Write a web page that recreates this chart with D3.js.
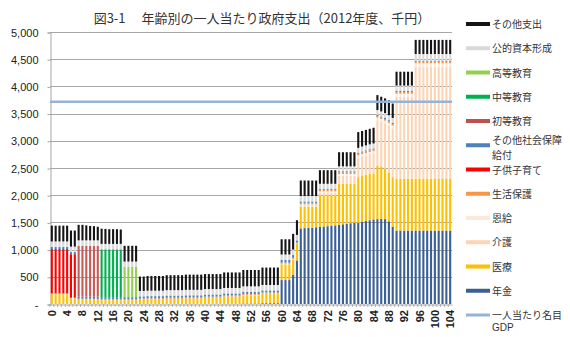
<!DOCTYPE html>
<html>
<head>
<meta charset="utf-8">
<script src="https://cdn.jsdelivr.net/npm/d3@7"></script>
<style>
  body { margin: 0; background: #fff; }
  svg { display: block; font-family: "Liberation Sans", Arial, sans-serif; }
</style>
</head>
<body>
<svg id="chart" width="570" height="337"></svg>
<script>
// ages 0 - 104
var ages = [
  0,1,2,3,4,5,6,7,8,9,
  10,11,12,13,14,15,16,17,18,19,
  20,21,22,23,24,25,26,27,28,29,
  30,31,32,33,34,35,36,37,38,39,
  40,41,42,43,44,45,46,47,48,49,
  50,51,52,53,54,55,56,57,58,59,
  60,61,62,63,64,65,66,67,68,69,
  70,71,72,73,74,75,76,77,78,79,
  80,81,82,83,84,85,86,87,88,89,
  90,91,92,93,94,95,96,97,98,99,
  100,101,102,103,104
];

// series, thousand yen per person
var nenkin = [
  0,0,0,0,0,0,0,0,0,0,
  0,0,0,0,0,0,0,0,0,0,
  0,0,0,0,0,0,0,0,0,0,
  0,0,0,0,0,0,0,0,0,0,
  5,5,5,5,5,5,5,5,5,5,
  10,10,10,10,10,15,15,15,15,15,
  440,440,440,540,800,1390,1395,1400,1405,1410,
  1420,1425,1430,1440,1445,1455,1465,1475,1485,1490,
  1490,1510,1525,1540,1555,1560,1565,1560,1520,1420,
  1350,1350,1350,1350,1350,1350,1350,1350,1350,1350,
  1350,1350,1350,1350,1350
];
var iryo = [
  180,180,180,180,180,100,100,80,80,80,
  80,80,80,70,70,70,70,70,70,70,
  70,70,70,80,80,85,85,85,85,85,
  95,95,95,95,95,100,100,100,100,100,
  110,110,110,110,110,130,130,130,130,130,
  150,150,150,150,150,170,170,170,170,170,
  290,290,290,280,300,400,395,390,385,380,
  570,565,560,550,545,755,745,735,725,720,
  840,845,850,850,845,985,965,925,900,910,
  955,955,955,955,955,955,955,955,955,955,
  955,955,955,955,955
];
var kaigo = [
  0,0,0,0,0,0,0,0,0,0,
  0,0,0,0,0,0,0,0,0,0,
  0,0,0,0,0,0,0,0,0,0,
  0,0,0,0,0,0,0,0,0,0,
  0,0,0,0,0,0,0,0,0,0,
  5,5,5,5,5,5,5,5,5,5,
  10,10,10,10,10,30,30,30,30,30,
  60,60,60,60,60,150,150,150,150,150,
  360,360,360,365,370,830,820,835,860,900,
  1500,1500,1500,1500,1500,2050,2050,2050,2050,2050,
  2050,2050,2050,2050,2050
];
var onkyu = [
  0,0,0,0,0,0,0,0,0,0,
  0,0,0,0,0,0,0,0,0,0,
  0,0,0,0,0,0,0,0,0,0,
  0,0,0,0,0,0,0,0,0,0,
  0,0,0,0,0,0,0,0,0,0,
  0,0,0,0,0,0,0,0,0,0,
  0,0,0,0,0,10,10,10,10,10,
  20,20,20,20,20,30,30,30,30,30,
  40,40,40,40,40,50,50,50,50,50,
  60,60,60,60,60,70,70,70,70,70,
  70,70,70,70,70
];
var seikatsu = [
  15,15,15,15,15,15,15,15,15,15,
  15,15,15,15,15,15,15,15,15,15,
  15,15,15,20,20,20,20,20,20,20,
  20,20,20,20,20,20,20,20,20,20,
  20,20,20,20,20,20,20,20,20,20,
  20,20,20,20,20,20,20,20,20,20,
  20,20,20,20,20,30,30,30,30,30,
  30,30,30,30,30,30,30,30,30,30,
  30,30,30,30,30,30,30,30,30,30,
  30,30,30,30,30,30,30,30,30,30,
  30,30,30,30,30
];
var kodomo = [
  815,815,815,815,815,800,800,0,0,0,
  0,0,0,0,0,0,0,0,0,0,
  0,0,0,0,0,0,0,0,0,0,
  0,0,0,0,0,0,0,0,0,0,
  0,0,0,0,0,0,0,0,0,0,
  0,0,0,0,0,0,0,0,0,0,
  0,0,0,0,0,0,0,0,0,0,
  0,0,0,0,0,0,0,0,0,0,
  0,0,0,0,0,0,0,0,0,0,
  0,0,0,0,0,0,0,0,0,0,
  0,0,0,0,0
];
var shakai = [
  40,40,40,40,40,40,40,40,40,40,
  40,40,40,40,40,40,40,40,40,40,
  40,40,40,40,40,40,40,40,40,40,
  40,40,40,40,40,40,40,40,40,40,
  40,40,40,40,40,40,40,40,40,40,
  40,40,40,40,40,40,40,40,40,40,
  50,50,50,50,40,25,25,25,25,25,
  20,20,20,20,20,20,20,20,20,20,
  20,20,20,20,20,20,20,20,20,20,
  20,20,20,20,20,20,20,20,20,20,
  20,20,20,20,20
];
var shoto = [
  0,0,0,0,0,0,0,935,935,935,
  935,935,935,0,0,0,0,0,0,0,
  0,0,0,0,0,0,0,0,0,0,
  0,0,0,0,0,0,0,0,0,0,
  0,0,0,0,0,0,0,0,0,0,
  0,0,0,0,0,0,0,0,0,0,
  0,0,0,0,0,0,0,0,0,0,
  0,0,0,0,0,0,0,0,0,0,
  0,0,0,0,0,0,0,0,0,0,
  0,0,0,0,0,0,0,0,0,0,
  0,0,0,0,0
];
var chuto = [
  0,0,0,0,0,0,0,0,0,0,
  0,0,0,880,880,880,880,880,880,0,
  0,0,0,0,0,0,0,0,0,0,
  0,0,0,0,0,0,0,0,0,0,
  0,0,0,0,0,0,0,0,0,0,
  0,0,0,0,0,0,0,0,0,0,
  0,0,0,0,0,0,0,0,0,0,
  0,0,0,0,0,0,0,0,0,0,
  0,0,0,0,0,0,0,0,0,0,
  0,0,0,0,0,0,0,0,0,0,
  0,0,0,0,0
];
var koto = [
  0,0,0,0,0,0,0,0,0,0,
  0,0,0,0,0,0,0,0,0,555,
  555,555,555,0,0,0,0,0,0,0,
  0,0,0,0,0,0,0,0,0,0,
  0,0,0,0,0,0,0,0,0,0,
  0,0,0,0,0,0,0,0,0,0,
  0,0,0,0,0,0,0,0,0,0,
  0,0,0,0,0,0,0,0,0,0,
  0,0,0,0,0,0,0,0,0,0,
  0,0,0,0,0,0,0,0,0,0,
  0,0,0,0,0
];
var kouteki = [
  100,100,100,100,100,100,100,100,100,100,
  100,100,100,100,100,100,100,100,100,100,
  100,100,100,100,100,100,100,100,100,100,
  100,100,100,100,100,100,100,100,100,100,
  100,100,100,100,100,100,100,100,100,100,
  100,100,100,100,100,100,100,100,100,100,
  100,100,100,100,100,100,100,100,100,100,
  90,90,90,90,90,90,90,90,90,90,
  90,90,90,90,90,90,90,90,90,90,
  100,100,100,100,100,120,120,120,120,120,
  120,120,120,120,120
];
var sonota = [
  290,290,290,290,290,295,295,285,285,275,
  265,260,250,280,275,270,270,270,265,290,
  290,290,290,265,265,270,270,270,270,270,
  275,275,275,275,275,280,280,280,280,280,
  275,275,275,275,275,285,285,285,285,285,
  300,300,300,300,300,320,320,320,320,320,
  280,280,280,290,270,285,285,285,285,285,
  250,250,250,250,250,260,260,260,260,260,
  290,285,285,285,290,275,270,270,275,265,
  255,255,255,255,255,260,260,260,260,260,
  260,260,260,260,260
];

var gdpPerCapita = 3720;

var xTicks = [0,4,8,12,16,20,24,28,32,36,40,44,48,52,56,60,64,68,72,76,80,84,88,92,96,100,104];
var yTicks = [0,500,1000,1500,2000,2500,3000,3500,4000,4500,5000];
var yTickLabels = ["-","500","1,000","1,500","2,000","2,500","3,000","3,500","4,000","4,500","5,000"];

// stack order bottom -> top
var seriesNames = ["年金","医療","介護","恩給","生活保護","子供子育て","その他社会保障給付","初等教育","中等教育","高等教育","公的資本形成","その他支出"];
var seriesData = [nenkin, iryo, kaigo, onkyu, seikatsu, kodomo, shakai, shoto, chuto, koto, kouteki, sonota];
var seriesColors = ["#3a6096","#ffc000","#fcd5b5","#fde9d9","#f79646","#ff0000","#4f81bd","#c85a57","#00b050","#92d050","#d9d9d9","#151515"];

var rows = ages.map(function(a, i){
  var r = {age: a};
  seriesNames.forEach(function(n, j){ r[n] = seriesData[j][i]; });
  return r;
});

var svg = d3.select("#chart");
var plot = {left: 50, right: 452, top: 32, bottom: 304};

var x = d3.scaleBand()
  .domain(ages)
  .range([plot.left, plot.right])
  .paddingInner(0.45)
  .paddingOuter(0.2);

var y = d3.scaleLinear()
  .domain([0, 5000])
  .range([plot.bottom, plot.top]);

// title
svg.append("text")
  .attr("x", 262)
  .attr("y", 23)
  .attr("text-anchor", "middle")
  .style("font-family", "'Noto Sans CJK JP', sans-serif")
  .style("font-size", "13px")
  .style("fill", "#333")
  .text("図3-1　 年齢別の一人当たり政府支出（2012年度、千円）");

// gridlines
svg.append("g")
  .selectAll("line")
  .data(yTicks.slice(1))
  .enter()
  .append("line")
    .attr("x1", plot.left)
    .attr("x2", plot.right)
    .attr("y1", function(d){ return Math.round(y(d)) + 0.5; })
    .attr("y2", function(d){ return Math.round(y(d)) + 0.5; })
    .style("stroke", "#a6a6a6")
    .style("stroke-width", 1);

// y axis
var yAxis = d3.axisLeft(y)
  .tickValues(yTicks)
  .tickSize(3)
  .tickPadding(9)
  .tickFormat(function(d, i){ return yTickLabels[i]; });

var gy = svg.append("g")
  .attr("transform", "translate(" + (plot.left + 0.5) + ",0.5)")
  .call(yAxis);
gy.select(".domain").style("stroke", "#a6a6a6");
gy.selectAll(".tick line").style("stroke", "#a6a6a6");
gy.selectAll(".tick text")
  .style("font-size", "11px")
  .style("fill", "#222")
  .style("font-family", "'Liberation Sans', Arial, sans-serif");

// bars
var stack = d3.stack().keys(seriesNames);
var layers = stack(rows);

svg.append("g")
  .selectAll("g")
  .data(layers)
  .enter()
  .append("g")
    .style("fill", function(d, i){ return seriesColors[i]; })
  .selectAll("rect")
  .data(function(d){ return d; })
  .enter()
  .append("rect")
    .attr("x", function(d){ return x(d.data.age); })
    .attr("width", x.bandwidth())
    .attr("y", function(d){ return y(d[1]); })
    .attr("height", function(d){ return Math.max(0, y(d[0]) - y(d[1])); });

// per-capita GDP line
svg.append("line")
  .attr("x1", plot.left)
  .attr("x2", plot.right)
  .attr("y1", y(gdpPerCapita))
  .attr("y2", y(gdpPerCapita))
  .style("stroke", "#95b3d7")
  .style("stroke-width", 2.5);

// x axis
var xAxis = d3.axisBottom(x)
  .tickValues(xTicks)
  .tickSize(0)
  .tickFormat("");

var gx = svg.append("g")
  .attr("transform", "translate(0," + (plot.bottom + 0.5) + ")")
  .call(xAxis);
gx.select(".domain").style("stroke", "#a6a6a6");

// small category ticks
svg.append("g")
  .selectAll("line")
  .data(ages)
  .enter()
  .append("line")
    .attr("x1", function(d){ return x(d) - x.step() * x.paddingInner() / 2; })
    .attr("x2", function(d){ return x(d) - x.step() * x.paddingInner() / 2; })
    .attr("y1", plot.bottom)
    .attr("y2", plot.bottom + 3)
    .style("stroke", "#a6a6a6")
    .style("stroke-width", 0.8);

svg.append("g")
  .selectAll("text")
  .data(xTicks)
  .enter()
  .append("text")
    .attr("transform", function(d){
      return "translate(" + (x(d) + x.bandwidth() / 2 + 4) + "," + (plot.bottom + 6) + ") rotate(-90)";
    })
    .attr("text-anchor", "end")
    .style("font-size", "11px")
    .style("font-weight", "bold")
    .style("fill", "#222")
    .text(function(d){ return d; });

// legend, top item first
var legendItems = [
  {name: ["その他支出"], color: "#151515", w: 4},
  {name: ["公的資本形成"], color: "#d9d9d9", w: 4},
  {name: ["高等教育"], color: "#92d050", w: 4},
  {name: ["中等教育"], color: "#00b050", w: 4},
  {name: ["初等教育"], color: "#c0504d", w: 4},
  {name: ["その他社会保障", "給付"], color: "#4f81bd", w: 4},
  {name: ["子供子育て"], color: "#ff0000", w: 4},
  {name: ["生活保護"], color: "#f79646", w: 4},
  {name: ["恩給"], color: "#fde9d9", w: 4},
  {name: ["介護"], color: "#fcd5b5", w: 4},
  {name: ["医療"], color: "#ffc000", w: 4},
  {name: ["年金"], color: "#3a6096", w: 4},
  {name: ["一人当たり名目", "GDP"], color: "#95b3d7", w: 3}
];

var legend = svg.append("g")
  .selectAll("g")
  .data(legendItems)
  .enter()
  .append("g")
    .attr("transform", function(d, i){ return "translate(466," + (24 + i * 24.25) + ")"; });

legend.append("line")
  .attr("x1", 0)
  .attr("x2", 24)
  .style("stroke", function(d){ return d.color; })
  .style("stroke-width", function(d){ return d.w; });

legend.each(function(d, i){
  // the wrapped social-security label is squeezed between two items
  var squeezed = d.name.length > 1 && i < 12;
  d.name.forEach(function(line, k){
    d3.select(this).append("text")
      .attr("x", 26)
      .attr("y", squeezed ? (k === 0 ? -1.75 : 13.25) : 4 + k * 12)
      .style("font-family", line === "GDP" ? "'Liberation Sans', Arial, sans-serif" : "'Noto Sans CJK JP', sans-serif")
      .style("font-size", "10px")
      .style("fill", "#333")
      .text(line);
  }, this);
});
</script>
</body>
</html>
